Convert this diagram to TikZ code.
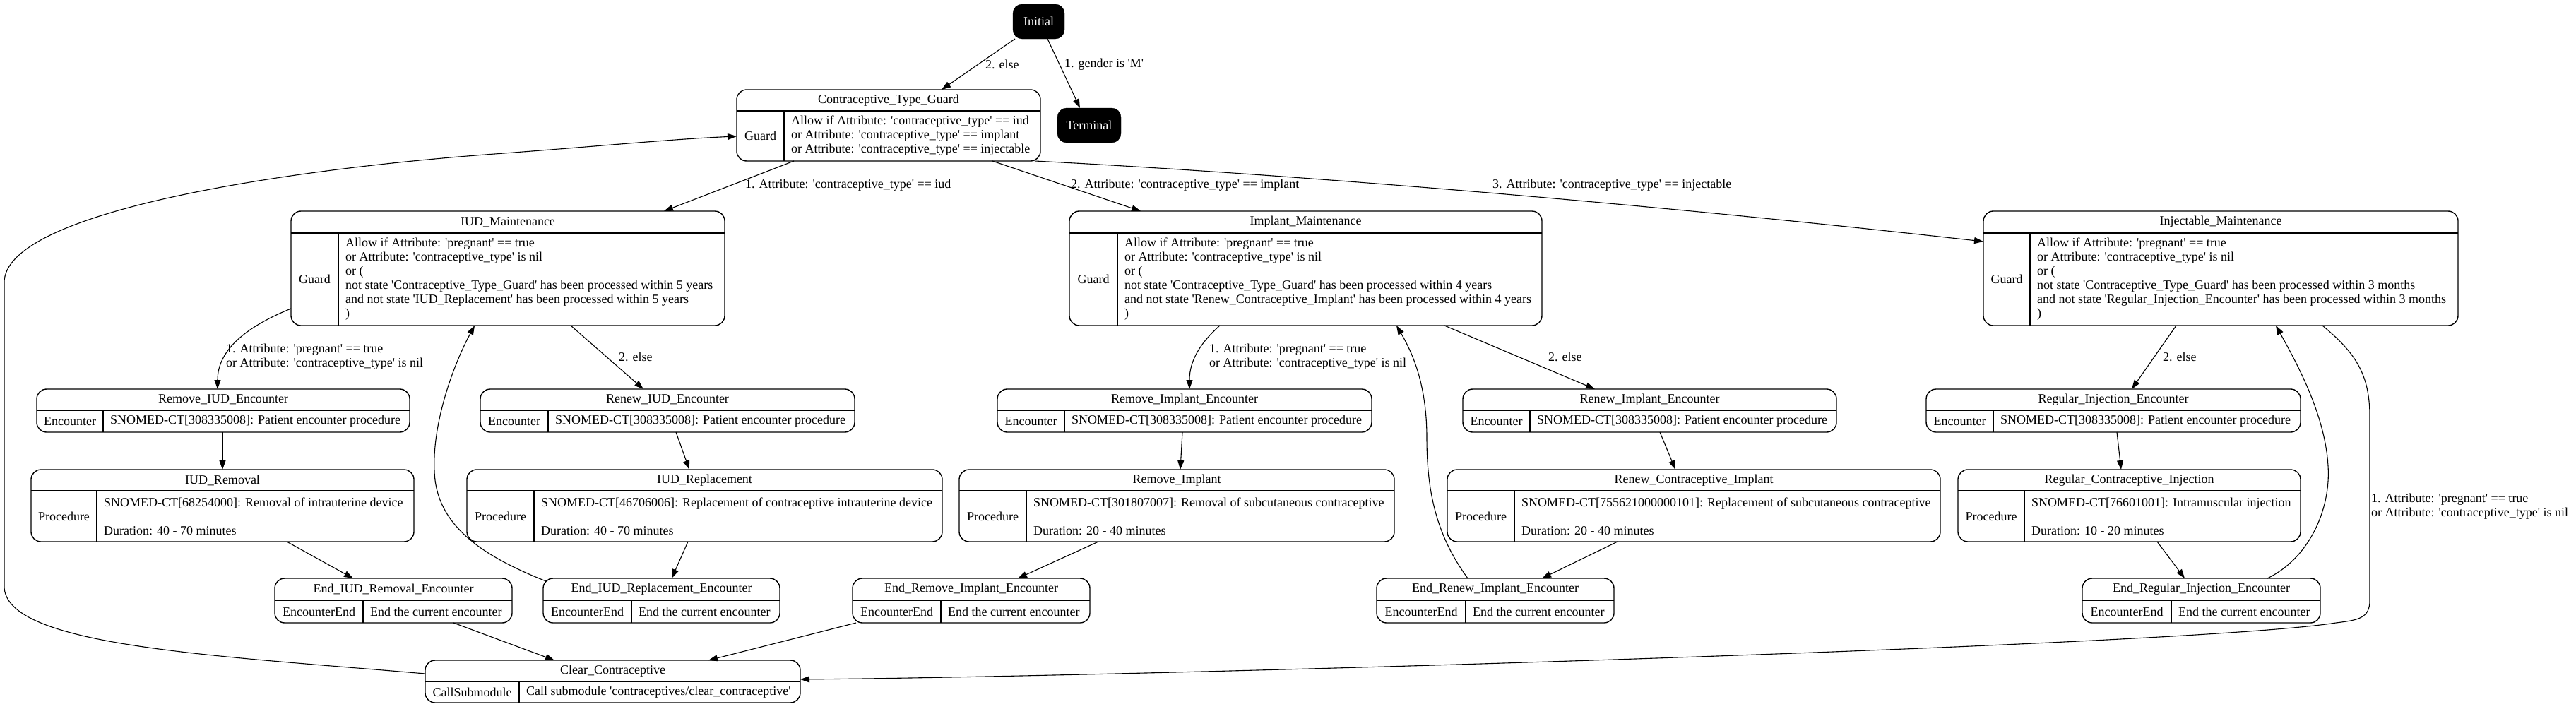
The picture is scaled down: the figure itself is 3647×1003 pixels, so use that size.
\documentclass[tikz,border=0pt]{standalone}
\usepackage{fontspec}
\setmainfont{Liberation Serif}[Ligatures=TeXOff]
\usetikzlibrary{arrows.meta}
\tikzset{
  every node/.style={font=\fontsize{18bp}{20bp}\selectfont, inner sep=0pt},
  recbox/.style={draw, line width=1.4bp, rounded corners=14bp, inner sep=0pt, outer sep=0pt},
  hdr/.style={line width=1.8bp},
  divl/.style={line width=1.1bp},
  term/.style={fill=black, draw=black, rounded corners=13bp, text=white, inner sep=0pt, outer sep=0pt},
  conn/.style={line width=1.1bp, -{Triangle[length=13bp,width=9bp]}},
  elabel/.style={anchor=west, align=left},
  cnt/.style={anchor=west, align=left, inner xsep=10bp},
}
\newcommand{\recbox}[7]{%
  \node[recbox, minimum width={(#4-#2)*1bp}, minimum height={(#5-#3)*1bp}] (#1) at ({(#2+#4)/2},{(#3+#5)/2}) {};
  \draw[hdr] (#2,#6) -- (#4,#6);
  \draw[divl] (#7,#6) -- (#7,#5);
  \coordinate (#1-t) at ({(#2+#4)/2},{(#3+#6)/2});
  \coordinate (#1-l) at ({(#2+#7)/2},{(#6+#5)/2});
  \coordinate (#1-c) at (#7,{(#6+#5)/2});
}
\newcommand{\rectext}[4]{%
  \node (#1-title) at (#1-t) {#2};
  \node (#1-left) at (#1-l) {#3};
  \node[cnt] (#1-body) at (#1-c) {#4};
}
\begin{document}
\begin{tikzpicture}[x=1bp,y=-1bp]
\fill[white] (0,0) rectangle (3647,1003);
\useasboundingbox (0,0) rectangle (3647,1003);

% terminal states
\node[term, minimum width=73bp, minimum height=49bp] (Initial) at (1470.5,30.5) {Initial};
\node[term, minimum width=90bp, minimum height=49bp] (Terminal) at (1542,177.5) {Terminal};

% record boxes: name, x1, y1, x2, y2, header line y, divider x
\recbox{CTG}{1043}{127}{1473}{228}{157}{1110}
\rectext{CTG}{Contraceptive\_Type\_Guard}{Guard}{Allow if Attribute: 'contraceptive\_type' == iud\\or Attribute: 'contraceptive\_type' == implant\\or Attribute: 'contraceptive\_type' == injectable}

\recbox{IUDM}{412}{299}{1026}{461}{330}{479}
\rectext{IUDM}{IUD\_Maintenance}{Guard}{Allow if Attribute: 'pregnant' == true\\or Attribute: 'contraceptive\_type' is nil\\or (\\not state 'Contraceptive\_Type\_Guard' has been processed within 5 years\\and not state 'IUD\_Replacement' has been processed within 5 years\\)}

\recbox{IMPM}{1514}{299}{2183}{461}{330}{1582}
\rectext{IMPM}{Implant\_Maintenance}{Guard}{Allow if Attribute: 'pregnant' == true\\or Attribute: 'contraceptive\_type' is nil\\or (\\not state 'Contraceptive\_Type\_Guard' has been processed within 4 years\\and not state 'Renew\_Contraceptive\_Implant' has been processed within 4 years\\)}

\recbox{INJM}{2808}{299}{3480}{461}{330}{2874}
\rectext{INJM}{Injectable\_Maintenance}{Guard}{Allow if Attribute: 'pregnant' == true\\or Attribute: 'contraceptive\_type' is nil\\or (\\not state 'Contraceptive\_Type\_Guard' has been processed within 3 months\\and not state 'Regular\_Injection\_Encounter' has been processed within 3 months\\)}

\recbox{RIE}{52}{551}{580}{612}{581}{146}
\rectext{RIE}{Remove\_IUD\_Encounter}{Encounter}{SNOMED-CT[308335008]: Patient encounter procedure}

\recbox{NIE}{680}{551}{1210}{612}{581}{776}
\rectext{NIE}{Renew\_IUD\_Encounter}{Encounter}{SNOMED-CT[308335008]: Patient encounter procedure}

\recbox{IUDR}{44}{665}{586}{767}{695}{137}
\rectext{IUDR}{IUD\_Removal}{Procedure}{SNOMED-CT[68254000]: Removal of intrauterine device\\\mbox{}\\Duration: 40 - 70 minutes}

\recbox{IUDP}{661}{665}{1334}{767}{695}{756}
\rectext{IUDP}{IUD\_Replacement}{Procedure}{SNOMED-CT[46706006]: Replacement of contraceptive intrauterine device\\\mbox{}\\Duration: 40 - 70 minutes}

\recbox{EIR}{389}{819}{725}{882}{850}{514}
\rectext{EIR}{End\_IUD\_Removal\_Encounter}{EncounterEnd}{End the current encounter}

\recbox{EIP}{769}{819}{1104}{882}{850}{894}
\rectext{EIP}{End\_IUD\_Replacement\_Encounter}{EncounterEnd}{End the current encounter}

\recbox{RME}{1412}{551}{1942}{612}{581}{1507}
\rectext{RME}{Remove\_Implant\_Encounter}{Encounter}{SNOMED-CT[308335008]: Patient encounter procedure}

\recbox{RMI}{1358}{665}{1974}{767}{695}{1453}
\rectext{RMI}{Remove\_Implant}{Procedure}{SNOMED-CT[301807007]: Removal of subcutaneous contraceptive\\\mbox{}\\Duration: 20 - 40 minutes}

\recbox{ERM}{1207}{819}{1543}{882}{850}{1332}
\rectext{ERM}{End\_Remove\_Implant\_Encounter}{EncounterEnd}{End the current encounter}

\recbox{RNE}{2071}{551}{2600}{612}{581}{2166}
\rectext{RNE}{Renew\_Implant\_Encounter}{Encounter}{SNOMED-CT[308335008]: Patient encounter procedure}

\recbox{RCI}{2049}{665}{2747}{767}{695}{2144}
\rectext{RCI}{Renew\_Contraceptive\_Implant}{Procedure}{SNOMED-CT[755621000000101]: Replacement of subcutaneous contraceptive\\\mbox{}\\Duration: 20 - 40 minutes}

\recbox{ERN}{1949}{819}{2285}{882}{850}{2075}
\rectext{ERN}{End\_Renew\_Implant\_Encounter}{EncounterEnd}{End the current encounter}

\recbox{RGE}{2727}{551}{3257}{612}{581}{2822}
\rectext{RGE}{Regular\_Injection\_Encounter}{Encounter}{SNOMED-CT[308335008]: Patient encounter procedure}

\recbox{RGI}{2772}{665}{3257}{767}{695}{2866}
\rectext{RGI}{Regular\_Contraceptive\_Injection}{Procedure}{SNOMED-CT[76601001]: Intramuscular injection\\\mbox{}\\Duration: 10 - 20 minutes}

\recbox{ERG}{2948}{819}{3285}{882}{850}{3074}
\rectext{ERG}{End\_Regular\_Injection\_Encounter}{EncounterEnd}{End the current encounter}

\recbox{CLR}{602}{935}{1133}{995}{965}{735}
\rectext{CLR}{Clear\_Contraceptive}{CallSubmodule}{Call submodule 'contraceptives/clear\_contraceptive'}

% connectors
\draw[conn] ([xshift=-33.5bp]Initial.south) -- ([xshift=75bp]CTG.north);
\draw[conn] ([xshift=12.5bp]Initial.south) -- ([xshift=-13bp]Terminal.north);
\draw[conn] ([xshift=-134bp]CTG.south) -- ([xshift=221bp]IUDM.north);
\draw[conn] ([xshift=147bp]CTG.south) -- ([xshift=-233.5bp]IMPM.north);
\draw[conn] ([xshift=-8bp]CTG.south east) .. controls (1800,245) and (2300,285) .. ([yshift=38bp]INJM.west);
\draw[conn] ([yshift=-57bp]IUDM.west) .. controls (350,462) and (308,495) .. ([xshift=-8bp]RIE.north);
\draw[conn] ([xshift=89bp]IUDM.south) -- ([xshift=-34bp]NIE.north);
\draw[conn] ([xshift=-1bp]RIE.south) -- (IUDR.north);
\draw[conn] ([xshift=12bp]NIE.south) -- ([xshift=-21.5bp]IUDP.north);
\draw[conn] ([xshift=91bp]IUDR.south) -- ([xshift=-57bp]EIR.north);
\draw[conn] ([xshift=-23.5bp]IUDP.south) -- ([xshift=14.5bp]EIP.north);
\draw[conn] ([xshift=4bp,yshift=-4bp]EIP.north west) .. controls (690,790) and (625,750) .. (616,680) .. controls (608,610) and (640,520) .. ([xshift=-47bp]IUDM.south);
\draw[conn] ([xshift=85bp]EIR.south) -- ([xshift=-82.5bp]CLR.north);
\draw[conn] ([xshift=5bp]ERM.south west) -- ([xshift=135.5bp]CLR.north);
\draw[conn] ([xshift=-121.5bp]IMPM.south) .. controls (1700,485) and (1684,510) .. ([xshift=7bp]RME.north);
\draw[conn] ([xshift=196.5bp]IMPM.south) -- ([xshift=-77.5bp]RNE.north);
\draw[conn] ([xshift=-3bp]RME.south) -- ([xshift=5bp]RMI.north);
\draw[conn] ([xshift=-111bp]RMI.south) -- ([xshift=66bp]ERM.north);
\draw[conn] ([xshift=14.5bp]RNE.south) -- ([xshift=-26bp]RCI.north);
\draw[conn] ([xshift=-108bp]RCI.south) -- ([xshift=66bp]ERN.north);
\draw[conn] ([xshift=-39bp]ERN.north) .. controls (2035,760) and (2020,700) .. (2020,620) .. controls (2020,545) and (2000,500) .. ([xshift=128.5bp]IMPM.south);
\draw[conn] ([xshift=-63bp]INJM.south) -- ([xshift=26bp]RGE.north);
\draw[conn] ([xshift=5bp]RGE.south) -- ([xshift=-11.5bp]RGI.north);
\draw[conn] ([xshift=39.5bp]RGI.south) -- ([xshift=-23.5bp]ERG.north);
\draw[conn] ([xshift=93.5bp]ERG.north) .. controls (3270,790) and (3300,720) .. (3296,660) .. controls (3292,590) and (3255,520) .. ([xshift=78bp]INJM.south);
\draw[conn] ([xshift=144bp]INJM.south) .. controls (3335,500) and (3355,530) .. (3355,590) -- (3355,850) .. controls (3355,875) and (3340,878) .. (3307,882) .. controls (3100,915) and (1600,958) .. ([yshift=3bp]CLR.east);
\draw[conn] ([yshift=11bp]CLR.west) .. controls (300,928) and (6,915) .. (6,830) -- (6,400) .. controls (6,300) and (400,240) .. (700,218) .. controls (850,207) and (950,197) .. ([yshift=-15.5bp]CTG.west);

% connector labels
\node[elabel] (L1) at (1395,91) {2. else};
\node[elabel] (L2) at (1507,91) {1. gender is 'M'};
\node[elabel] (L3) at (1055,262) {1. Attribute: 'contraceptive\_type' == iud};
\node[elabel] (L4) at (1516,262) {2. Attribute: 'contraceptive\_type' == implant};
\node[elabel] (L5) at (2113,262) {3. Attribute: 'contraceptive\_type' == injectable};
\node[elabel] (L6) at (320,505) {1. Attribute: 'pregnant' == true\\or Attribute: 'contraceptive\_type' is nil};
\node[elabel] (L7) at (876,505) {2. else};
\node[elabel] (L8) at (1712,505) {1. Attribute: 'pregnant' == true\\or Attribute: 'contraceptive\_type' is nil};
\node[elabel] (L9) at (2192,505) {2. else};
\node[elabel] (L10) at (3062,505) {2. else};
\node[elabel] (L11) at (3357,717) {1. Attribute: 'pregnant' == true\\or Attribute: 'contraceptive\_type' is nil};
\end{tikzpicture}
\end{document}
